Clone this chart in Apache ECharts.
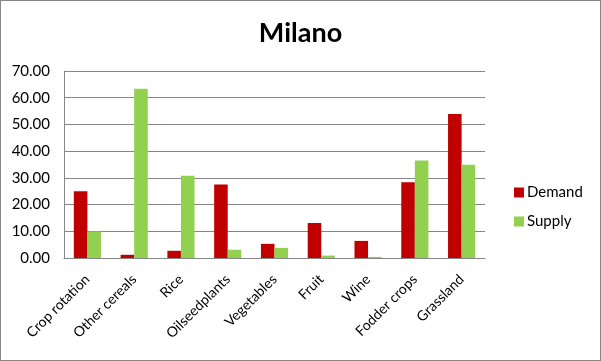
<!DOCTYPE html>
<html>
<head>
<meta charset="utf-8">
<script src="https://cdn.jsdelivr.net/npm/echarts@6/dist/echarts.min.js"></script>
<style>
html,body{margin:0;padding:0;background:#fff;}
#c{width:601px;height:361px;box-sizing:border-box;border:1px solid #868686;}
</style>
</head>
<body>
<div id="c"></div>
<script>
const categories = ['Crop rotation','Other cereals','Rice','Oilseedplants','Vegetables','Fruit','Wine','Fodder crops','Grassland'];
const demand = [25.0, 1.2, 2.7, 27.5, 5.3, 13.1, 6.4, 28.4, 53.9];
const supply = [9.9, 63.4, 30.8, 3.1, 3.8, 0.9, 0.4, 36.5, 34.9];
const yTicks = [0, 10, 20, 30, 40, 50, 60, 70];

const chart = echarts.init(document.getElementById('c'), null, {renderer:'canvas'});
const font = 'Lato, "Open Sans", sans-serif';
chart.setOption({
  animation:false,
  title:{text:'Milano', left:'center', top:14, textStyle:{fontFamily:font, fontSize:27, fontWeight:'bold', color:'#000'}},
  legend:{
    orient:'vertical', left:508, top:179, itemWidth:10, itemHeight:10, itemGap:14,
    icon:'rect',
    textStyle:{fontFamily:font, fontSize:15, color:'#000', padding:[0,0,0,-2]},
    data:['Demand','Supply']
  },
  grid:{left:63, right:115, top:70, bottom:102},
  xAxis:{
    type:'category', data:categories,
    axisLine:{lineStyle:{color:'#868686'}},
    axisTick:{show:false},
    axisLabel:{rotate:45, interval:0, fontFamily:font, fontSize:14, color:'#000', margin:19}
  },
  yAxis:{
    type:'value', min:yTicks[0], max:yTicks[yTicks.length-1], interval:10,
    axisLine:{show:true, lineStyle:{color:'#868686'}},
    axisTick:{show:false},
    splitLine:{lineStyle:{color:'#868686'}},
    axisLabel:{fontFamily:font, fontSize:15, color:'#000', margin:14, formatter:v=>v.toFixed(2)}
  },
  series:[
    {name:'Demand', type:'bar', data:demand, itemStyle:{color:'#C00000'}, barGap:'0%', barCategoryGap:'42%'},
    {name:'Supply', type:'bar', data:supply, itemStyle:{color:'#92D050'}, barGap:'0%', barCategoryGap:'42%'}
  ]
});
</script>
</body>
</html>
